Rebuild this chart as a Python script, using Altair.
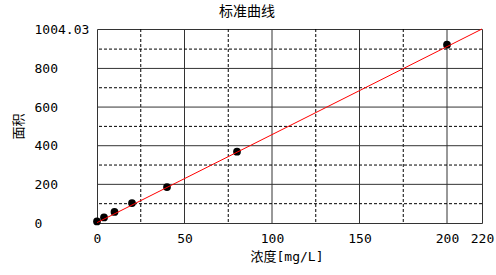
import altair as alt
import pandas as pd

# data
conc = [0, 4, 10, 20, 40, 80, 200]
area = [8, 29, 57, 103, 186, 369, 923]
fit_x = [0, 220]
fit_y = [2, 1004.03]
x_major = [50, 100, 150, 200]
x_minor = [25, 75, 125, 175]
y_major = [200, 400, 600, 800]
y_minor = [100, 300, 500, 700, 900]
x_ticks = [0, 50, 100, 150, 200, 220]
y_ticks = [0, 200, 400, 600, 800, 1004.03]

W, H = 385, 194
FONT = "DejaVu Sans Mono, Noto Sans CJK SC"

pts = pd.DataFrame({"x": conc, "y": area})
fit = pd.DataFrame({"x": fit_x, "y": fit_y})
vmaj = pd.DataFrame({"x": x_major})
vmin = pd.DataFrame({"x": x_minor})
hmaj = pd.DataFrame({"y": y_major})
hmin = pd.DataFrame({"y": y_minor})

xs = alt.Scale(domain=[0, 220], nice=False, zero=False)
ys = alt.Scale(domain=[0, 1004.03], nice=False, zero=False)

xaxis = alt.Axis(values=x_ticks, grid=False, ticks=False, tickSize=0, domain=False,
                 labelFlush=False, labelOverlap=False, labelFont=FONT, labelFontSize=13,
                 labelColor="#000", labelBaseline="middle", labelPadding=15,
                 title="浓度[mg/L]", titleFont=FONT, titleFontSize=13, titleFontWeight="normal",
                 titleColor="#000", titleX=189.5, titleY=33, titleBaseline="middle",
                 titleAlign="center")
yaxis = alt.Axis(values=y_ticks, format=".6~g", grid=False, ticks=False, tickSize=0,
                 domain=False, labelAlign="left", labelBaseline="middle", labelPadding=63,
                 labelOverlap=False, labelBound=False, labelFont=FONT, labelFontSize=13,
                 labelColor="#000",
                 title="面积", titleFont=FONT, titleFontSize=13, titleFontWeight="normal",
                 titleColor="#000", titleX=-79, titleY=97, titleAngle=-90,
                 titleBaseline="middle", titleAlign="center")


def X():
    return alt.X("x:Q", scale=xs, axis=xaxis, title="浓度[mg/L]")


def Y():
    return alt.Y("y:Q", scale=ys, axis=yaxis, title="面积")


vmajor = alt.Chart(vmaj).mark_rule(color="#333", strokeWidth=1).encode(x=X())
vminor = alt.Chart(vmin).mark_rule(color="#000", strokeWidth=1, strokeDash=[3, 2]).encode(x=X())
hmajor = alt.Chart(hmaj).mark_rule(color="#333", strokeWidth=1).encode(y=Y())
hminor = alt.Chart(hmin).mark_rule(color="#000", strokeWidth=1, strokeDash=[3, 2]).encode(y=Y())

points = alt.Chart(pts).mark_point(filled=True, shape="circle", size=60, color="#000",
                                   opacity=1).encode(x=X(), y=Y())
line = alt.Chart(fit).mark_line(color="#ff0000", strokeWidth=1).encode(x=X(), y=Y())

chart = alt.layer(vmajor, vminor, hmajor, hminor, points, line).properties(
    width=W, height=H,
    title=alt.TitleParams("标准曲线", font=FONT, fontSize=14, fontWeight="normal",
                          color="#000", anchor="middle", dx=-42.5, offset=4),
    autosize=alt.AutoSizeParams(type="none"),
    padding={"left": 97, "top": 29, "right": 14, "bottom": 52},
    background="white",
).configure_view(stroke="#333", strokeWidth=1)

chart.save("out.html", embed_options={"renderer": "svg", "actions": False})
